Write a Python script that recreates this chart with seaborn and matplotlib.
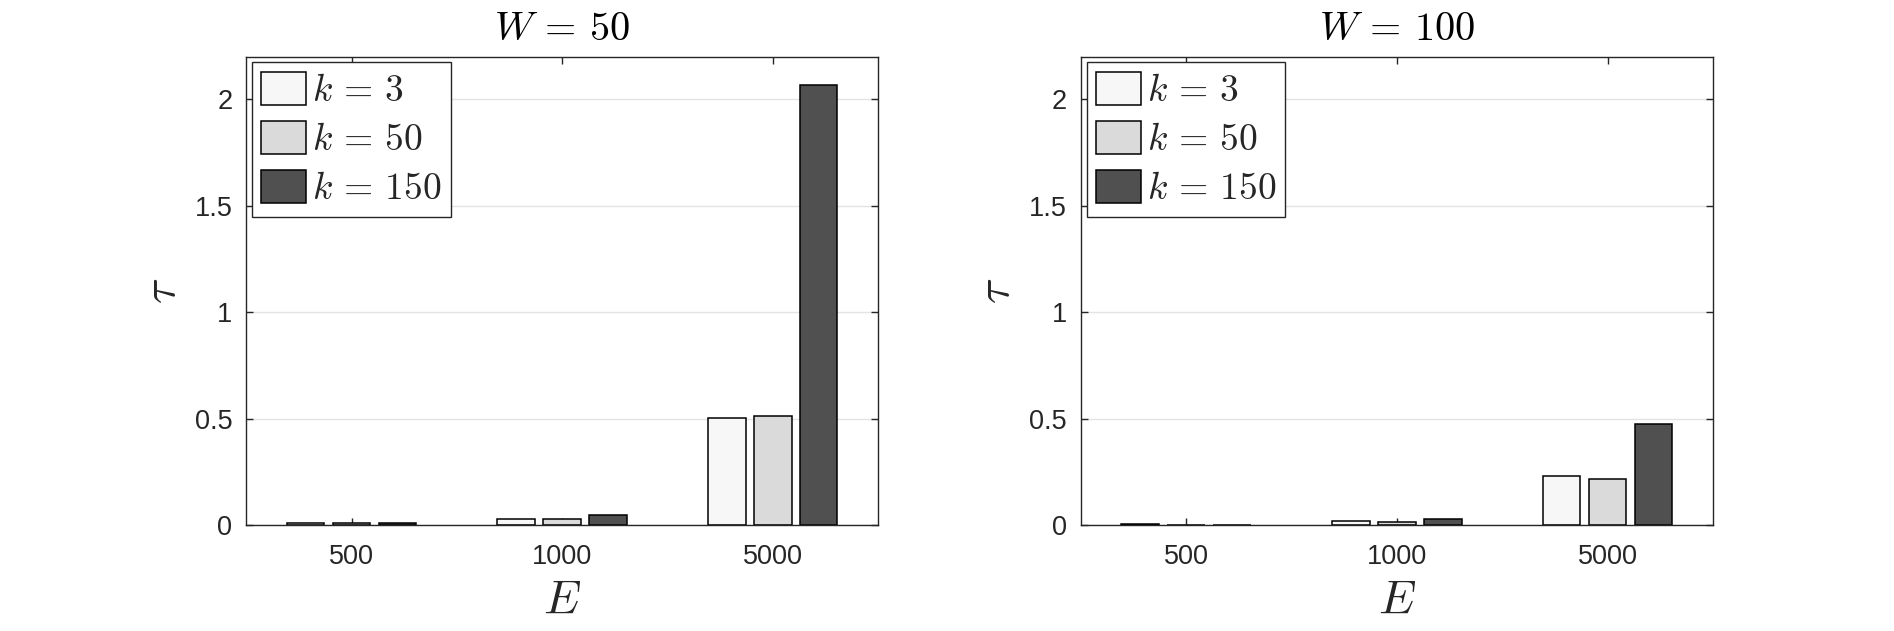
import numpy as np
import pandas as pd
import seaborn as sns
import matplotlib
matplotlib.use("Agg")
import matplotlib.pyplot as plt

# data
E_vals = ["500", "1000", "5000"]
k_labels = [r"$k\,=\,3$", r"$k\,=\,50$", r"$k\,=\,150$"]
w50_k3 = [0.010, 0.030, 0.505]
w50_k50 = [0.010, 0.030, 0.510]
w50_k150 = [0.008, 0.048, 2.068]
w100_k3 = [0.006, 0.018, 0.231]
w100_k50 = [0.001, 0.012, 0.217]
w100_k150 = [0.001, 0.028, 0.473]
titles = [r"$W\,=\,50$", r"$W\,=\,100$"]
bar_colors = ["#f7f7f7", "#dadada", "#505050"]

def make_df(series):
    rows = []
    for lab, vals in zip(k_labels, series):
        for e, v in zip(E_vals, vals):
            rows.append({"E": e, "tau": v, "k": lab})
    return pd.DataFrame(rows)

frames = [make_df([w50_k3, w50_k50, w50_k150]),
          make_df([w100_k3, w100_k50, w100_k150])]

sns.set_style("white")
plt.rcParams["font.family"] = ["Liberation Sans", "DejaVu Sans"]
plt.rcParams["mathtext.fontset"] = "cm"

fig = plt.figure(figsize=(18.94, 6.31), dpi=100)
positions = [[0.130, 0.168, 0.3336, 0.742], [0.5707, 0.168, 0.3337, 0.742]]
dark = "#262626"

for pos, df, title in zip(positions, frames, titles):
    ax = fig.add_axes(pos)
    ax.set_axisbelow(True)
    ax.yaxis.grid(True, color="#e3e3e3", linewidth=1)
    sns.barplot(data=df, x="E", y="tau", hue="k", order=E_vals, hue_order=k_labels,
                palette=bar_colors, edgecolor="black", linewidth=1.1,
                width=0.654, gap=0.18, ax=ax, saturation=1)
    ax.set_xlim(-0.5, 2.5)
    ax.set_ylim(0, 2.2)
    ax.set_yticks([0, 0.5, 1, 1.5, 2])
    ax.set_yticklabels(["0", "0.5", "1", "1.5", "2"])
    ax.tick_params(direction="in", length=5, width=1, colors=dark, labelsize=19.5,
                   top=True, right=True, bottom=True, left=True)
    ax.tick_params(axis="x", pad=14)
    ax.tick_params(axis="y", pad=10)
    for s in ax.spines.values():
        s.set_visible(True)
        s.set_color(dark)
        s.set_linewidth(1)
    ax.set_xlabel("$E$", fontsize=34, color=dark, labelpad=6)
    ax.set_ylabel(r"$\tau$", fontsize=34, color=dark, labelpad=7)
    ax.set_title(title, fontsize=29, color="black", pad=12)
    leg = ax.legend(loc="upper left", fontsize=27, frameon=True, fancybox=False,
                    edgecolor=dark, framealpha=1, handlelength=1.2, handleheight=1.0,
                    handletextpad=0.15, labelspacing=0.3, borderpad=0.25,
                    borderaxespad=0.15)
    leg.get_frame().set_linewidth(1)

fig.savefig("out.png", dpi=100)
